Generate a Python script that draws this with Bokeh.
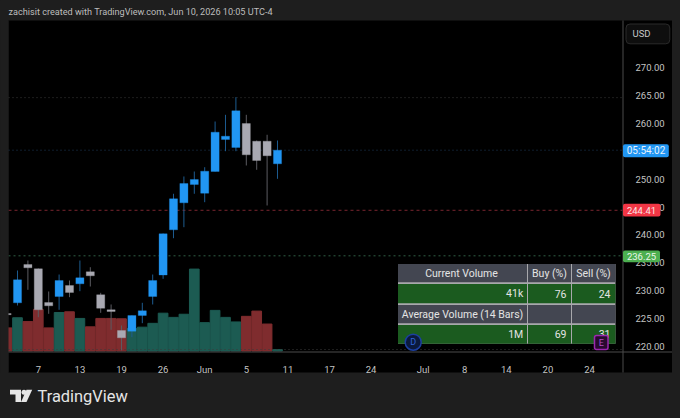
from bokeh.plotting import figure
from bokeh.models import (Range1d, FixedTicker, BoxAnnotation, Label,
                          PolyAnnotation, ColumnDataSource, GlobalInlineStyleSheet)
from bokeh.embed import file_html
from bokeh.resources import INLINE

bar_index = list(range(-1, 26))
opens = [225.9, 227.83, 234.70, 233.92, 227.89, 228.96, 230.93, 231.24, 233.39, 229.27, 226.58, 222.87, 222.74, 225.56,
         228.96, 232.81, 240.91, 245.75, 249.03, 247.47, 251.36, 257.10, 255.66, 259.96, 256.79, 256.79, 252.74]
closes = [225.7, 231.95, 234.10, 226.58, 227.29, 231.83, 229.68, 232.31, 232.67, 226.86, 226.27, 221.56, 225.56, 226.40,
          231.83, 240.20, 246.47, 249.21, 249.93, 251.42, 258.41, 257.69, 262.24, 254.35, 253.33, 254.18, 255.18]
highs = [226.0, 233.62, 235.41, 233.98, 229.86, 232.90, 231.83, 235.41, 234.21, 229.62, 227.53, 223.76, 225.56, 227.83,
         232.90, 240.25, 247.37, 250.47, 251.36, 252.13, 260.32, 261.52, 264.68, 261.52, 256.92, 257.94, 256.92]
lows = [225.6, 227.35, 230.16, 225.25, 225.86, 226.58, 228.84, 229.91, 230.75, 226.04, 223.00, 219.30, 221.67, 224.18,
        227.53, 232.13, 239.41, 241.38, 247.37, 245.86, 251.36, 255.00, 255.00, 252.44, 251.67, 245.27, 250.05]
volumes = [0.66, 0.95, 0.84, 1.19, 0.66, 1.10, 1.12, 0.93, 0.69, 0.93, 0.93, 0.92, 0.64, 0.68,
           0.79, 1.08, 0.96, 1.05, 2.34, 0.81, 1.16, 0.96, 0.83, 0.99, 1.14, 0.77, 0.041]
volume_up = [0, 1, 0, 0, 0, 1, 0, 1, 0, 0, 0, 0, 1, 1, 1, 1, 1, 1, 1, 1, 1, 1, 1, 0, 0, 0, 1]

date_ticks = [2, 6, 10, 14, 18, 22, 26, 30, 34, 39, 43, 47, 51, 55]
date_labels = ["7", "13", "19", "26", "Jun", "5", "11", "17", "24", "Jul", "8", "14", "20", "24"]
price_ticks = [220, 225, 230, 235, 240, 245, 250, 255, 260, 265, 270]

level_prices = [264.6, 255.18, 244.41, 236.25, 219.46]
level_colors = ["#3a3a3a", "#1d3a5c", "#7a2630", "#2f5f45", "#3a3a3a"]
level_dashes = ["1 3", "1 3", "3 3", "2 3", "1 3"]

table_rows = [["Current Volume", "Buy (%)", "Sell (%)"], ["41k", "76", "24"],
              ["Average Volume (14 Bars)", "", ""], ["1M", "69", "31"]]

BG = "#1e1e1e"
FONT = "Roboto"

# The plotting frame fills the page; both axes are pinned inside it.
index_left, index_right = -0.865, 58.17
price_bottom = 219.10
p = figure(width=680, height=418, output_backend="svg", toolbar_location=None,
           x_range=Range1d(-1.6346, 63.75), y_range=Range1d(207.097, 282.007),
           min_border_left=0, min_border_right=0, min_border_top=0, min_border_bottom=0,
           y_axis_location="right",
           background_fill_color=BG, border_fill_color=BG, outline_line_color=None)
p.stylesheets = [GlobalInlineStyleSheet(css=f"html,body{{background:{BG};overflow:hidden}}")]
p.grid.visible = False
p.extra_y_ranges = {"vol": Range1d(-1.929, 10.014)}


def box(l, t, r, b, color, line=None, lw=1, radius=0, level="annotation"):
    a = BoxAnnotation(left=l, right=r, top=t, bottom=b,
                      left_units="canvas", right_units="canvas", top_units="canvas", bottom_units="canvas",
                      fill_color=color, fill_alpha=1 if color else 0, line_color=line, line_width=lw,
                      line_alpha=1 if line else 0, level=level, border_radius=radius, editable=False)
    p.add_layout(a)
    return a


def text(x, y, s, size=9.5, color="#c4c4c4", align="left", weight="normal", font=FONT):
    p.add_layout(Label(x=x, y=y, x_units="canvas", y_units="canvas", text=s, text_font=font,
                       text_font_size=f"{size}px", text_color=color, text_align=align,
                       text_baseline="middle", text_font_style=weight))


# black panel
box(8, 20, 671.5, 372, "#000000", level="image")

# volume
vol_colors = ["#1c5b52" if u else "#7f2c2e" for u in volume_up]
p.vbar(x=bar_index, top=volumes, bottom=0, width=0.93, color=vol_colors, y_range_name="vol")

# reference lines
for v, c, dash in zip(level_prices, level_colors, level_dashes):
    p.segment(x0=[index_left], x1=[index_right], y0=[v], y1=[v], line_color=c, line_width=1, line_dash=dash)

# candles
up = [c >= o for o, c in zip(opens, closes)]
body_colors = ["#2196f3" if u else "#a9a9b2" for u in up]
wick_colors = ["#1d5c90" if u else "#5c5c62" for u in up]
src = ColumnDataSource(dict(x=bar_index, o=opens, c=closes, h=highs, l=lows, bc=body_colors, wc=wick_colors))
p.segment(x0="x", x1="x", y0="l", y1="h", line_color="wc", line_width=1, source=src)
p.vbar(x="x", top="o", bottom="c", width=0.78, fill_color="bc", line_color="bc", line_width=0.3, source=src)

# left edge of the panel hides the part of the first bar that runs off the chart
box(0, 20, 8, 372, BG)

# axes
for ax in (p.xaxis[0], p.yaxis[0]):
    ax.major_tick_line_color = None
    ax.minor_tick_line_color = None
    ax.axis_line_color = None
    ax.major_label_text_color = "#c4c4c4"
    ax.major_label_text_font = FONT
    ax.major_label_text_font_size = "9.5px"
p.xaxis[0].fixed_location = price_bottom
p.yaxis[0].fixed_location = index_right
p.xaxis[0].ticker = FixedTicker(ticks=date_ticks)
p.xaxis[0].major_label_overrides = {t: l for t, l in zip(date_ticks, date_labels)}
p.xaxis[0].major_label_standoff = 6
p.yaxis[0].ticker = FixedTicker(ticks=price_ticks)
p.yaxis[0].major_label_overrides = {t: f"{t:.2f}" for t in price_ticks}
p.yaxis[0].major_label_standoff = 7

# frame lines
box(622, 20, 623, 372, "#4a4a4a")
box(8, 351, 671.5, 352, "#4a4a4a")

# price tags
box(622.5, 143.7, 668.3, 156.7, "#2196f3", radius=2)
text(645.5, 150.2, "05:54:02", 10, color="#e6f2fc", align="center")
box(622.5, 203.3, 660, 216, "#f23645", radius=2)
text(641, 209.8, "244.41", color="#fbe4e6", align="center")
box(622.5, 250, 659.5, 261.7, "#4caf50", radius=2)
text(641, 256, "236.25", color="#eaf6ea", align="center")

# USD box
box(625.5, 23.5, 669.3, 43.3, "#0e0e0e", line="#2a2a2a", radius=4)
text(632, 33.3, "USD", color="#c8c8c8")

# table
col_edges = [(397.5, 526.5), (527.5, 570.5), (571.5, 615)]
row_edges = [(263.5, 281.7), (283.5, 302.7), (304.5, 322.7), (324.5, 343.3)]
row_fill = ["#434651", "#1b5b1f", "#434651", "#1b5b1f"]
box(397.5, 263.5, 615, 343.3, "#a8a8ac")
for (t, b), fc in zip(row_edges, row_fill):
    for l, r in col_edges:
        box(l, t, r, b, fc)
TXT = "#e4e4e4"
for (t, b), row in zip(row_edges, table_rows):
    cy = (t + b) / 2
    if row is table_rows[0]:
        text(461, cy, row[0], 10.5, TXT, "center")
        text(549, cy, row[1], 10.5, TXT, "center")
        text(593, cy, row[2], 10.5, TXT, "center")
    else:
        for s, rx in zip(row, (522.7, 566, 610)):
            if s:
                text(rx, cy, s, 10.5, TXT, "right")

# event markers
box(404.7, 333.7, 420.7, 349.7, "#0b1a3d", line="#1c3fa0", lw=1.5, radius=8)
text(412.7, 341.7, "D", 9, "#2f63d8", "center")
box(594, 335, 607.5, 349, "#2a0a30", line="#9c27b0", lw=1.5, radius=2)
text(600.7, 342, "E", 9, "#b14cc4", "center")

# header and footer
text(8, 11.7, "zachisit created with TradingView.com, Jun 10, 2026 10:05 UTC-4", 9.15, "#bdbdbd")
text(37, 395.5, "TradingView", 16.4, "#e6e6e6")
logo = "#e6e6e6"
for xs, ys in [([9.5, 20.5, 20.5, 15, 15, 9.5], [389.3, 389.3, 401.5, 401.5, 394, 394]),
               ([26, 31.7, 26, 20.5], [389.3, 389.3, 401.5, 401.5])]:
    p.add_layout(PolyAnnotation(xs=xs, ys=ys, xs_units="canvas", ys_units="canvas",
                                fill_color=logo, fill_alpha=1, line_color=None))
box(21, 389.3, 26, 394.3, logo, radius=3)

open("out.html", "w").write(file_html(p, INLINE))
